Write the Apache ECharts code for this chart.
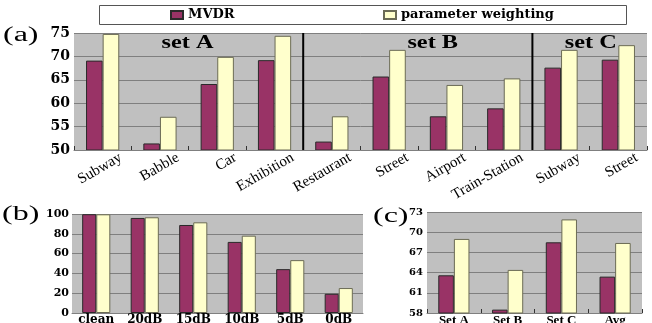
<!DOCTYPE html>
<html><head><meta charset="utf-8">
<script src="https://cdn.jsdelivr.net/npm/echarts@6/dist/echarts.min.js"></script>
<style>html,body{margin:0;padding:0;background:#fff}#c{width:652px;height:323px}</style>
</head><body><div id="c"></div>
<script>
// ---- data ----
const noiseTypes = ['Subway','Babble','Car','Exhibition','Restaurant','Street','Airport','Train-Station','Subway','Street'];
const mvdrA = [69.1, 51.4, 64.1, 69.2, 51.8, 65.7, 57.2, 58.9, 67.6, 69.3];
const pwA   = [74.8, 57.1, 69.9, 74.4, 57.2, 71.4, 63.9, 65.3, 71.4, 72.4];
const setGroups = ['set A','set B','set C'];

const snrLevels = ['clean','20dB','15dB','10dB','5dB','0dB'];
const mvdrB = [99.8, 96.0, 88.9, 71.8, 44.3, 19.4];
const pwB   = [99.7, 96.7, 91.6, 78.1, 53.4, 25.2];

const setNames = ['Set A','Set B','Set C','Avg'];
const mvdrC = [63.6, 58.5, 68.5, 63.4];
const pwC   = [69.0, 64.4, 71.9, 68.4];

const seriesNames = ['MVDR','parameter weighting'];

// ---- styles ----
const SERIF_W = '"DejaVu Serif", serif';
const SERIF_T = '"Liberation Serif", serif';
const mvdrStyle = {color:'#993366', borderColor:'#2a2a2a', borderWidth:1};
const pwStyle = {color:'#ffffcc', borderColor:'#6b6b55', borderWidth:1};
const gridLine = {show:true, lineStyle:{color:'#7f7f7f', width:1}};

const chart = echarts.init(document.getElementById('c'), null, {renderer:'canvas'});

function barPair(xi, yi, a, b){
  return [
    {name:seriesNames[0], type:'bar', xAxisIndex:xi, yAxisIndex:yi, data:a, itemStyle:mvdrStyle,
     barGap:'0%', barCategoryGap:'42%', animation:false},
    {name:seriesNames[1], type:'bar', xAxisIndex:xi, yAxisIndex:yi, data:b, itemStyle:pwStyle,
     barGap:'0%', barCategoryGap:'42%', animation:false}
  ];
}

const legendText = {fontFamily:SERIF_W, fontWeight:'bold', fontSize:13, color:'#000', lineHeight:14};
const gridBase = {show:true, backgroundColor:'#c0c0c0', borderWidth:0, containLabel:false, outerBoundsMode:'none'};

const option = {
  backgroundColor:'#fff',
  animation:false,
  legend:[
    {data:[seriesNames[0]], left:170, top:8, padding:0, itemWidth:12, itemHeight:8, icon:'rect', textStyle:legendText, selectedMode:false},
    {data:[seriesNames[1]], left:383, top:8, padding:0, itemWidth:12, itemHeight:8, icon:'rect', textStyle:legendText, selectedMode:false}
  ],
  grid:[
    Object.assign({left:74, top:33, width:573, height:117}, gridBase),
    Object.assign({left:72, top:214, width:291, height:99}, gridBase),
    Object.assign({left:427, top:212, width:215, height:101}, gridBase)
  ],
  xAxis:[
    {type:'category', gridIndex:0, data:noiseTypes, z:5,
     axisLine:{lineStyle:{color:'#7f7f7f'}},
     axisTick:{show:true, inside:true, length:4, lineStyle:{color:'#333'}},
     axisLabel:{interval:0, rotate:30, margin:17, overflow:'none', padding:[0,-21,0,0],
                fontFamily:SERIF_T, fontSize:15, color:'#000'}},
    {type:'category', gridIndex:1, data:snrLevels,
     axisLine:{lineStyle:{color:'#7f7f7f'}},
     axisTick:{show:false},
     axisLabel:{interval:0, margin:1, fontFamily:SERIF_W, fontWeight:'bold', fontSize:12, color:'#000'}},
    {type:'category', gridIndex:2, data:setNames,
     axisLine:{lineStyle:{color:'#7f7f7f'}},
     axisTick:{show:true, inside:true, length:4, lineStyle:{color:'#333'}},
     axisLabel:{interval:0, margin:1, fontFamily:SERIF_T, fontWeight:'bold', fontSize:13, color:'#000'}}
  ],
  yAxis:[
    {type:'value', gridIndex:0, min:50, max:75, interval:5, splitLine:gridLine,
     axisLine:{show:false}, axisTick:{show:false},
     axisLabel:{margin:4, fontFamily:SERIF_W, fontWeight:'bold', fontSize:14, color:'#000'}},
    {type:'value', gridIndex:1, min:0, max:100, interval:20, splitLine:gridLine,
     axisLine:{show:false}, axisTick:{show:false},
     axisLabel:{margin:3, fontFamily:SERIF_W, fontWeight:'bold', fontSize:11, color:'#000'}},
    {type:'value', gridIndex:2, min:58, max:73, interval:3, splitLine:gridLine,
     axisLine:{show:false}, axisTick:{show:false},
     axisLabel:{margin:4, fontFamily:SERIF_W, fontWeight:'bold', fontSize:10, color:'#000'}}
  ],
  series:[].concat(barPair(0,0,mvdrA,pwA), barPair(1,1,mvdrB,pwB), barPair(2,2,mvdrC,pwC))
};
chart.setOption(option);

// ---- annotations positioned from the axes ----
const px = i => chart.convertToPixel({xAxisIndex:0}, i);
const step = px(1) - px(0);
const at = f => px(0) + f * step;
const yTop = chart.convertToPixel({yAxisIndex:0}, 75);
const yBot = chart.convertToPixel({yAxisIndex:0}, 50);
const sepAt = [3.5, 7.5];
const setLabelAt = [1.48, 5.76, 8.52];

const graphics = [
  {type:'rect', z:0, shape:{x:99.5, y:5.5, width:527, height:19}, style:{fill:'#fff', stroke:'#555', lineWidth:1}}
];
sepAt.forEach(f => graphics.push({type:'line', z:10, shape:{x1:at(f), y1:yTop, x2:at(f), y2:yBot}, style:{stroke:'#000', lineWidth:2}}));
setGroups.forEach((t, i) => graphics.push({type:'text', z:10, x:at(setLabelAt[i]), y:43, scaleX:1.35,
  style:{text:t, x:0, y:0, textAlign:'center', textVerticalAlign:'middle', align:'center', verticalAlign:'middle',
         font:'bold 18px "Liberation Serif", serif', fill:'#000'}}));
[['(a)',3,36],['(b)',2,215],['(c)',373,217]].forEach(([t,x,y]) => graphics.push({type:'text', z:10, x:x, y:y, scaleX:1.6,
  style:{text:t, x:0, y:0, textAlign:'left', textVerticalAlign:'middle', align:'left', verticalAlign:'middle',
         font:'20px "Liberation Serif", serif', fill:'#000'}}));
chart.setOption({graphic:graphics});
</script>
</body></html>
